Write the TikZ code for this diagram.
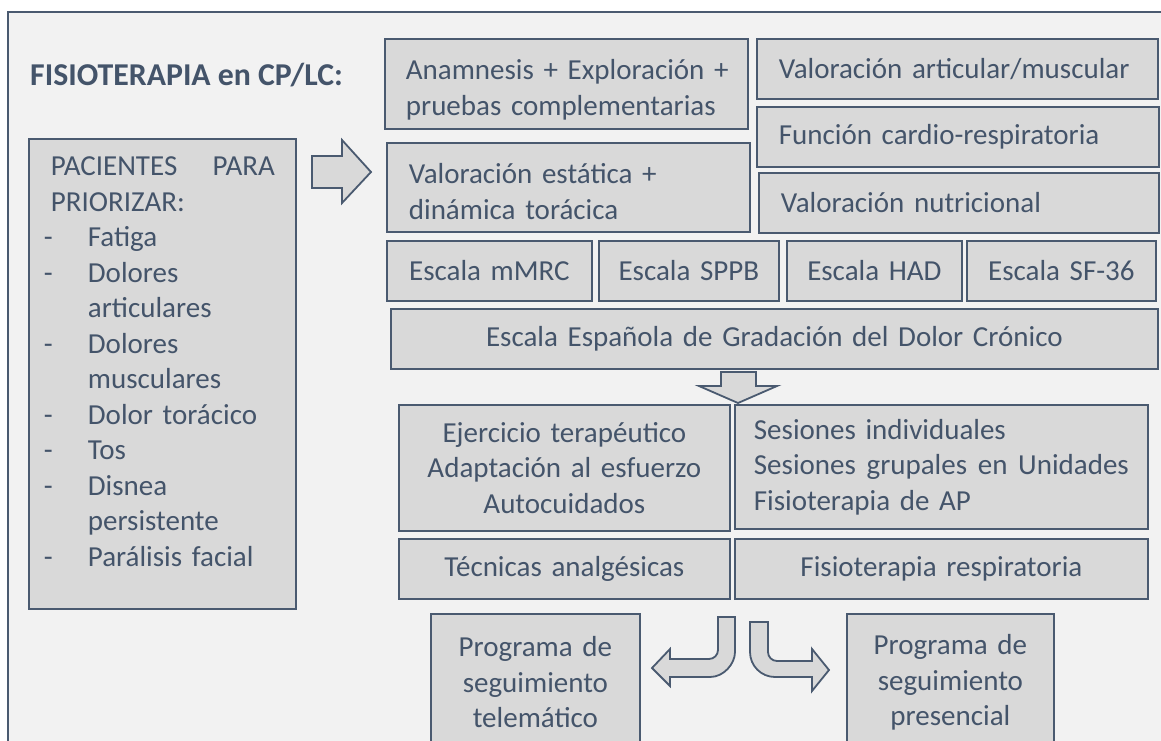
\documentclass[tikz,border=0pt]{standalone}
\usepackage{fontspec}
\setmainfont{Carlito}
\definecolor{bord}{HTML}{4A5A70}
\definecolor{txt}{HTML}{44546A}
\definecolor{boxfill}{HTML}{D9D9D9}
\definecolor{bg}{HTML}{F2F2F2}
\tikzset{
  box/.style={draw=bord,fill=boxfill,line width=1.8pt,text=txt,
    font=\fontsize{29}{35.5}\selectfont,inner ysep=0pt},
  arrowshape/.style={draw=bord,fill=boxfill,line width=1.8pt,line join=miter}
}
\newcommand\mybox[8]{%
  \pgfmathsetmacro\bw{#4-#2}%
  \pgfmathsetmacro\bh{#5-#3}%
  \pgfmathsetmacro\tw{#4-#2-2*#6}%
  \node[box,align=#7,inner xsep=#6pt,text width=\tw pt,minimum width=\bw pt,
    minimum height=\bh pt,anchor=north west] (#1) at (#2,#3) {#8};}
\newcommand\itm{\makebox[44pt][l]{-}}
\newcommand\ind{\hspace*{44pt}}
\begin{document}
\begin{tikzpicture}[x=1pt,y=-1pt]
\useasboundingbox (0,0) rectangle (1161,740);
\fill[white] (0,0) rectangle (1161,740);
\draw[draw=bord,fill=bg,line width=1.8pt] (8,12) rectangle (1180,760);

\node[text=txt,font=\fontsize{31.8}{38}\selectfont\bfseries,anchor=base west,inner sep=0pt] (title) at (30,85) {FISIOTERAPIA en CP/LC:};

\mybox{pac}{28}{138}{295}{608}{15}{left}{%
\mbox{}\hspace{7pt}PACIENTES\hfill PARA\rule{6pt}{0pt}\\
\hspace*{7pt}PRIORIZAR:\\
\itm Fatiga\\
\itm Dolores\\
\ind articulares\\
\itm Dolores\\
\ind musculares\\
\itm Dolor torácico\\
\itm Tos\\
\itm Disnea\\
\ind persistente\\
\itm Parálisis facial\\[-11pt]\mbox{}}

\mybox{anam}{384}{38}{747}{128}{21}{left}{\mbox{\rule{0pt}{32pt}Anamnesis + Exploración +}\\ \mbox{pruebas complementarias}}
\mybox{vest}{386}{142}{749}{231}{22}{left}{\mbox{\rule{0pt}{28pt}Valoración estática +}\\ \mbox{dinámica torácica}}
\mybox{vart}{756}{38}{1157}{98}{22}{left}{\mbox{Valoración articular/muscular}}
\mybox{fcr}{756}{106}{1158}{166}{22}{left}{\mbox{Función cardio-respiratoria}}
\mybox{vnut}{758}{172}{1158}{232}{22}{left}{\mbox{Valoración nutricional}}
\mybox{mmrc}{386}{240}{591}{300}{5}{center}{Escala mMRC}
\mybox{sppb}{598}{240}{778}{300}{5}{center}{Escala SPPB}
\mybox{had}{786}{240}{961}{300}{5}{center}{Escala HAD}
\mybox{sf}{966}{240}{1155}{300}{5}{center}{Escala SF-36}
\mybox{eed}{390}{308}{1157}{368}{5}{center}{Escala Española de Gradación del Dolor Crónico}
\mybox{ejer}{398}{404}{729}{530}{5}{center}{Ejercicio terapéutico\\ Adaptación al esfuerzo\\ Autocuidados}
\mybox{ses}{734}{404}{1147}{528}{19}{left}{Sesiones individuales\\ Sesiones\hfill grupales\hfill en\hfill Unidades\\ Fisioterapia de AP}
\mybox{tec}{398}{538}{729}{598}{5}{center}{Técnicas analgésicas}
\mybox{fres}{734}{538}{1147}{598}{5}{center}{Fisioterapia respiratoria}
\mybox{ptel}{430}{613}{639}{750}{5}{center}{Programa de\\ seguimiento\\ telemático}
\mybox{ppre}{846}{613}{1053}{750}{5}{center}{Programa de\\ seguimiento\\ presencial}

% right block arrow
\draw[arrowshape] (312,156) -- (342,156) -- (342,140) -- (371,172) -- (342,203)
  -- (342,188) -- (312,188) -- cycle;
% down block arrow
\draw[arrowshape] (721,372) -- (756,372) -- (756,386) -- (777,386) -- (738,403)
  -- (699,386) -- (721,386) -- cycle;
% bent arrow to the left
\draw[arrowshape] (718,617) -- (735,617) -- (735,652)
  .. controls (735,663.8) and (723.8,677) .. (710,677)
  -- (670,677) -- (670,686) -- (652,668) -- (670,649) -- (670,659) -- (709,659)
  .. controls (714,659) and (718,655) .. (718,650) -- cycle;
% bent arrow to the right
\draw[arrowshape] (750,622) -- (768,622) -- (768,652)
  .. controls (768,657) and (772,661) .. (777,661)
  -- (812,661) -- (812,649) -- (829,670) -- (812,691) -- (812,677) -- (775,677)
  .. controls (761.2,677) and (750,665.8) .. (750,652) -- cycle;
\end{tikzpicture}
\end{document}
